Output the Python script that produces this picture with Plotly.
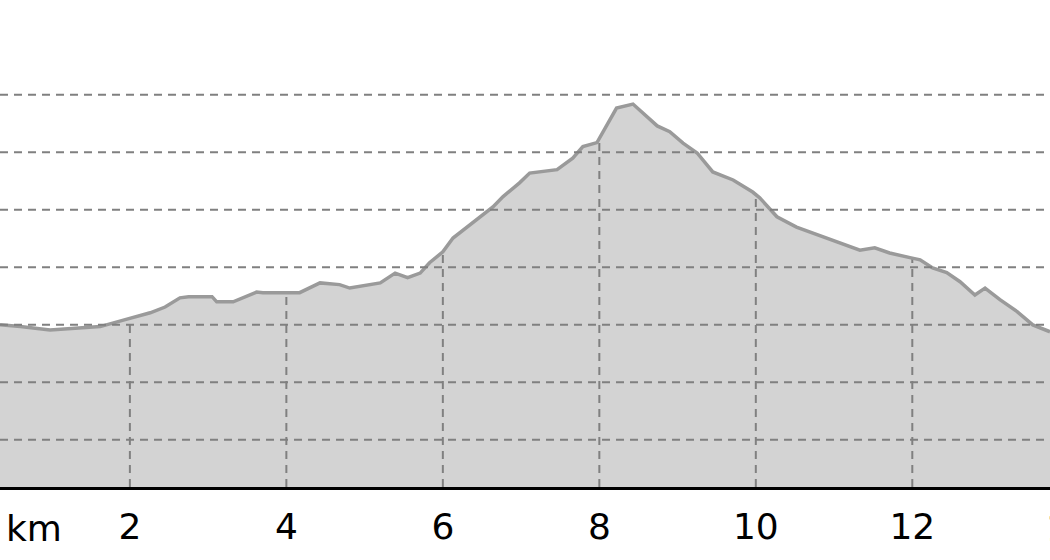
import numpy as np
import plotly.graph_objects as go

# elevation profile (distance in km, elevation in m)
dist_km = [0.34, 0.6, 0.98, 1.3, 1.62, 1.94, 2.26, 2.45, 2.64, 2.75, 3.05, 3.11, 3.32,
           3.62, 3.70, 4.17, 4.43, 4.68, 4.81, 5.20, 5.39, 5.55, 5.71, 5.83, 6.00,
           6.13, 6.31, 6.47, 6.64, 6.77, 6.98, 7.11, 7.46, 7.66, 7.79, 7.97, 8.10,
           8.22, 8.43, 8.61, 8.74, 8.90, 9.07, 9.25, 9.45, 9.71, 9.96, 10.05, 10.27,
           10.52, 10.78, 11.07, 11.33, 11.52, 11.71, 11.97, 12.10, 12.26, 12.44,
           12.61, 12.80, 12.93, 13.12, 13.34, 13.54, 13.76]
elev_m = [400, 397, 391, 394, 397, 409, 421, 431, 447, 449, 449, 440, 440,
          457, 456, 456, 473, 470, 464, 473, 490, 482, 490, 508, 527,
          551, 570, 588, 605, 623, 647, 664, 670, 690, 710, 717, 748,
          777, 784, 762, 746, 736, 716, 699, 666, 652, 631, 621, 588,
          570, 557, 543, 530, 534, 525, 517, 513, 499, 491,
          475, 452, 464, 444, 423, 400, 388]

x_ticks = [2, 4, 6, 8, 10, 12]
y_grid = [200, 300, 400, 500, 600, 700, 800]

x_range = [0.34, 13.76]
y_range = [118, 965]

grid_color = '#808080'
font = dict(family='DejaVu Sans', size=36, color='black')

fig = go.Figure()

# filled area under the profile
fig.add_trace(go.Scatter(x=dist_km, y=elev_m, mode='lines', fill='tozeroy',
                         fillcolor='#d3d3d3', line=dict(width=0), hoverinfo='skip'))

# vertical grid lines only go up to the profile
for t in x_ticks:
    top = float(np.interp(t, dist_km, elev_m))
    fig.add_trace(go.Scatter(x=[t, t], y=[y_range[0], top], mode='lines',
                             line=dict(color=grid_color, width=2, dash='8px,6px'),
                             hoverinfo='skip'))

# profile outline
fig.add_trace(go.Scatter(x=dist_km, y=elev_m, mode='lines',
                         line=dict(color='#9a9a9a', width=3.5)))

# horizontal grid lines drawn on top of everything
for g in y_grid:
    fig.add_shape(type='line', xref='x domain', yref='y', x0=0, x1=1, y0=g, y1=g,
                  line=dict(color=grid_color, width=2, dash='8px,6px'), layer='above')

fig.add_annotation(text='km', xref='paper', yref='paper', x=0, y=0, xanchor='left',
                   yanchor='top', yshift=-19, xshift=4, showarrow=False, font=font)
# the "14" label sits just past the right edge, only its first digit shows
fig.add_annotation(text='14', xref='paper', yref='paper', x=1, y=0, xanchor='left',
                   yanchor='top', yshift=-19, xshift=-6, showarrow=False, font=font)

fig.update_layout(
    width=1050, height=560,
    margin=dict(l=0, r=0, t=0, b=73),
    paper_bgcolor='white', plot_bgcolor='white',
    showlegend=False,
    xaxis=dict(range=x_range, tickvals=x_ticks, ticks='', showgrid=False, zeroline=False,
               showline=True, linecolor='black', linewidth=2.5, tickfont=font,
               ticklabelstandoff=6),
    yaxis=dict(range=y_range, showgrid=False, zeroline=False, showticklabels=False),
)

# page has a default 8px body margin; drop it so the figure fills the window
fig.write_html("out.html", config={'displayModeBar': False},
               post_script="document.body.style.margin='0';")
